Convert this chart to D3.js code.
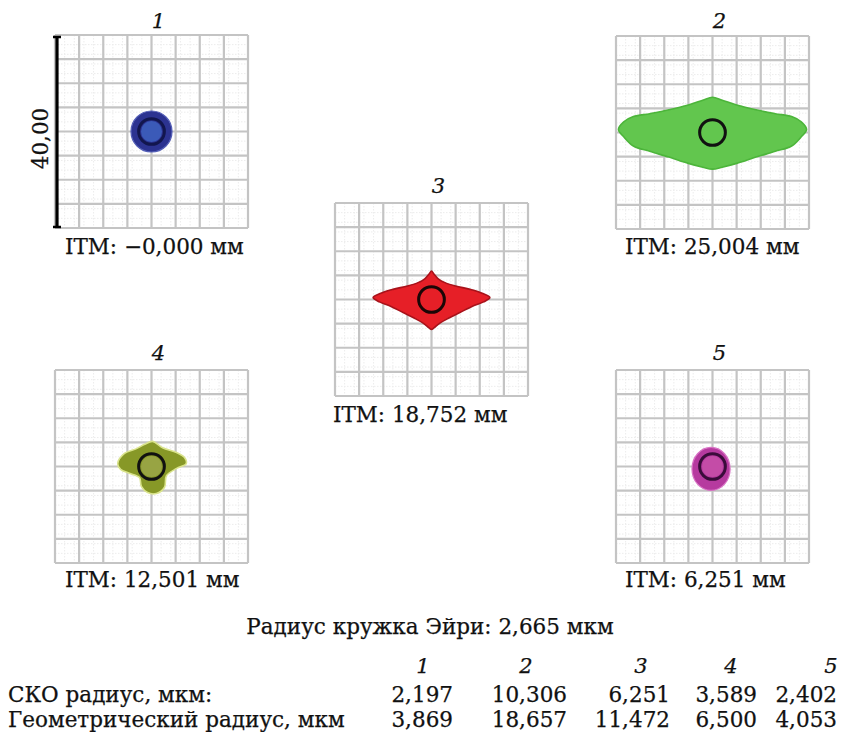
<!DOCTYPE html>
<html>
<head>
<meta charset="utf-8">
<script src="https://cdn.jsdelivr.net/npm/d3@7"></script>
<style>
  body { margin: 0; background: #fff; }
  text { font-family: "DejaVu Serif", serif; fill: #111; stroke: #111; stroke-width: 0.25px; }
</style>
</head>
<body>
<div id="chart"></div>
<script>
// field of each spot diagram, mkm (scale bar 40,00)
const fieldHalf = 20;
const airyRadius = 2.665;

const panelIds = ["1", "2", "3", "4", "5"];
const itmValues = ["\u22120,000", "25,004", "18,752", "12,501", "6,251"];
const rmsRadius = [2.197, 10.306, 6.251, 3.589, 2.402];
const geoRadius = [3.869, 18.657, 11.472, 6.500, 4.053];

// spot outlines, mkm from the chief ray (y up)
const spot1 = { rx: 4.25, ry: 4.25, dx: 0, dy: 0 };
const spot2 = [[-19.5,0.6],[-18.4,2.2],[-16.4,3.3],[-13,3.9],[-9,4.7],[-5,5.7],[-2,6.7],[0,7.3],[2,6.7],[5,5.7],[9,4.7],[13,3.9],[16.4,3.3],[18.4,2.2],[19.5,0.6],
               [18.4,-0.9],[16.4,-2.8],[13,-3.9],[9,-5.1],[5,-6.4],[2,-7.2],[0,-7.6],[-2,-7.2],[-5,-6.4],[-9,-5.1],[-13,-3.9],[-16.4,-2.8],[-18.4,-0.9]];
const spot3 = [[-12.1,0.4],[-10.5,1.3],[-8,2.1],[-5,2.8],[-2.8,3.5],[-1.4,4.3],[-0.5,5.3],[0,5.9],[0.5,5.3],[1.4,4.3],[2.8,3.5],[5,2.8],[8,2.1],[10.5,1.3],[12.1,0.4],
               [10.8,-0.5],[8.5,-1.4],[5.9,-2.7],[3.5,-3.9],[1.6,-5.0],[0.5,-5.9],[0,-6.2],[-0.5,-5.9],[-1.6,-5.0],[-3.5,-3.9],[-5.9,-2.7],[-8.5,-1.4],[-10.8,-0.5]];
const spot4 = [[-7.0,0.6],[-5.6,2.7],[-3.1,3.7],[-1.4,4.6],[0.2,5.2],[2.3,3.9],[5.2,2.9],[6.8,1.9],[7.2,0.6],[5.2,-0.4],[3.1,-1.9],[2.7,-4.3],
               [1.0,-5.6],[-0.8,-5.4],[-2.1,-4.1],[-2.5,-2.3],[-4.6,-1.4],[-6.4,-0.6]];
const spot5 = { rx: 3.95, ry: 4.45, dx: -0.3, dy: -0.5 };

const spots = [spot1, spot2, spot3, spot4, spot5];

// layout and colours
const width = 847, height = 732;
const gridSize = 193;
const layout = [
  { left: 55,  top: 35,  titleY: 28,  labelX: 65,  labelY: 254 },
  { left: 616, top: 36,  titleY: 28,  labelX: 625, labelY: 254 },
  { left: 335, top: 203, titleY: 193, labelX: 333, labelY: 422 },
  { left: 55,  top: 370, titleY: 360, labelX: 65,  labelY: 587 },
  { left: 616, top: 370, titleY: 360, labelX: 625, labelY: 587 }
];
const styles = [
  { fill: "#2c3391", edge: "#5560b8", core: "#3b5ab8", ring: "#12164e" },
  { fill: "#62c64e", edge: "#4cb53a", core: null,      ring: "#111" },
  { fill: "#e61f27", edge: "#a8121a", core: null,      ring: "#1a0606" },
  { fill: "#879827", edge: "#d9e38c", core: "#98a443", ring: "#111" },
  { fill: "#b63a9f", edge: "#d871c4", core: "#c44ca7", ring: "#3a0c3a" }
];

const fmt = v => d3.format(".3f")(v).replace(".", ",");

const svg = d3.select("#chart").append("svg")
  .attr("width", width)
  .attr("height", height);

svg.append("rect").attr("width", width).attr("height", height).attr("fill", "#fff");

panelIds.forEach((id, i) => {
  const L = layout[i], st = styles[i];
  const x = d3.scaleLinear().domain([-fieldHalf, fieldHalf]).range([L.left, L.left + gridSize]);
  const y = d3.scaleLinear().domain([-fieldHalf, fieldHalf]).range([L.top + gridSize, L.top]);
  const g = svg.append("g").attr("class", "panel-" + id);

  // minor grid
  const minor = x.ticks(20).filter(v => x.ticks(10).indexOf(v) < 0);
  g.selectAll(".minor-v").data(minor).join("line")
    .attr("x1", d => x(d)).attr("x2", d => x(d))
    .attr("y1", y(fieldHalf)).attr("y2", y(-fieldHalf))
    .attr("stroke", "#ececec").attr("stroke-width", 1).attr("stroke-dasharray", "1.5,1.5");
  g.selectAll(".minor-h").data(minor).join("line")
    .attr("y1", d => y(d)).attr("y2", d => y(d))
    .attr("x1", x(-fieldHalf)).attr("x2", x(fieldHalf))
    .attr("stroke", "#ececec").attr("stroke-width", 1).attr("stroke-dasharray", "1.5,1.5");

  // major grid
  g.selectAll(".grid-v").data(x.ticks(10)).join("line")
    .attr("x1", d => x(d)).attr("x2", d => x(d))
    .attr("y1", y(fieldHalf)).attr("y2", y(-fieldHalf))
    .attr("stroke", "#c4c4c4").attr("stroke-width", 2.2);
  g.selectAll(".grid-h").data(y.ticks(10)).join("line")
    .attr("y1", d => y(d)).attr("y2", d => y(d))
    .attr("x1", x(-fieldHalf)).attr("x2", x(fieldHalf))
    .attr("stroke", "#c4c4c4").attr("stroke-width", 2.2);

  // spot
  const spot = spots[i];
  const k = x(1) - x(0);
  if (Array.isArray(spot)) {
    const line = d3.line().x(d => x(d[0])).y(d => y(d[1])).curve(d3.curveCatmullRomClosed.alpha(0.5));
    g.append("path").attr("d", line(spot))
      .attr("fill", st.fill).attr("stroke", st.edge).attr("stroke-width", 1.6)
      .attr("stroke-linejoin", "round");
  } else {
    g.append("ellipse")
      .attr("cx", x(spot.dx)).attr("cy", y(spot.dy))
      .attr("rx", spot.rx * k).attr("ry", spot.ry * k)
      .attr("fill", st.fill).attr("stroke", st.edge).attr("stroke-width", 1.2);
  }
  if (st.core) {
    g.append("circle").attr("cx", x(0)).attr("cy", y(0))
      .attr("r", (airyRadius - 0.5) * k).attr("fill", st.core);
  }
  // Airy disc
  g.append("circle").attr("cx", x(0)).attr("cy", y(0))
    .attr("r", airyRadius * k)
    .attr("fill", "none").attr("stroke", st.ring).attr("stroke-width", 3);

  // title and ITM label
  svg.append("text")
    .attr("x", x(0) + 7).attr("y", L.titleY)
    .attr("text-anchor", "middle")
    .style("font-style", "italic").style("font-size", "21px")
    .text(id);
  svg.append("text")
    .attr("x", L.labelX).attr("y", L.labelY)
    .style("font-size", "21.5px")
    .text(`ITM: ${itmValues[i]} мм`);

  // scale bar on the first panel
  if (i === 0) {
    const bx = x(-fieldHalf) + 2;
    g.append("line").attr("x1", bx).attr("x2", bx)
      .attr("y1", y(fieldHalf) + 2).attr("y2", y(-fieldHalf) - 1)
      .attr("stroke", "#000").attr("stroke-width", 3.2);
    [fieldHalf, -fieldHalf].forEach(v => {
      g.append("line").attr("x1", bx - 4).attr("x2", bx + 4)
        .attr("y1", y(v) + (v > 0 ? 2 : -1)).attr("y2", y(v) + (v > 0 ? 2 : -1))
        .attr("stroke", "#000").attr("stroke-width", 2.5);
    });
    svg.append("text")
      .attr("transform", `translate(${bx - 9},${y(0) + 7}) rotate(-90)`)
      .attr("text-anchor", "middle")
      .style("font-size", "21.5px")
      .text(fmt(fieldHalf * 2).slice(0, -1));
  }
});

// Airy radius line
svg.append("text")
  .attr("x", 430).attr("y", 634)
  .attr("text-anchor", "middle")
  .style("font-size", "21.5px")
  .text(`Радиус кружка Эйри: ${fmt(airyRadius)} мкм`);

// table
const colRight = [453, 567, 670, 757, 837];
const headX = [423, 526, 641, 731, 831];
svg.selectAll(".head").data(panelIds).join("text")
  .attr("x", (d, i) => headX[i]).attr("y", 673)
  .attr("text-anchor", "middle")
  .style("font-style", "italic").style("font-size", "21px")
  .text(d => d);

const rows = [
  { label: "СКО радиус, мкм:", values: rmsRadius, y: 702 },
  { label: "Геометрический радиус, мкм", values: geoRadius, y: 727 }
];
rows.forEach(r => {
  svg.append("text").attr("x", 8).attr("y", r.y)
    .style("font-size", "21.5px").text(r.label);
  svg.selectAll(null).data(r.values).join("text")
    .attr("x", (d, i) => colRight[i]).attr("y", r.y)
    .attr("text-anchor", "end")
    .style("font-size", "21.5px")
    .text(d => fmt(d));
});
</script>
</body>
</html>
